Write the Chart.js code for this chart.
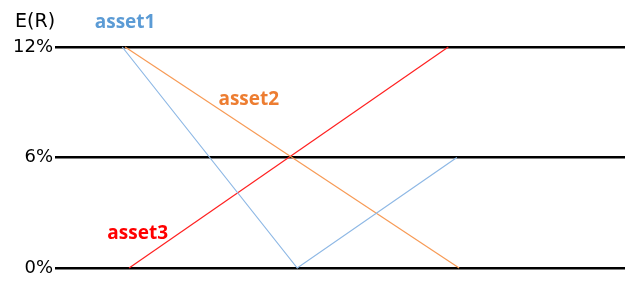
<!DOCTYPE html>
<html>
<head>
<meta charset="utf-8">
<script src="https://cdn.jsdelivr.net/npm/chart.js@4"></script>
<style>
  html, body { margin: 0; padding: 0; background: #fff; }
  #wrap { width: 625px; height: 288px; }
</style>
</head>
<body>
<div id="wrap"><canvas id="c" width="625" height="288"></canvas></div>
<script>
// Данные: положение по горизонтали (условные единицы) и E(R) в %
const yTicks = [0, 6, 12];
const asset1X = [1.18, 4.25, 7.05];
const asset1Y = [12, 0, 6];
const asset2X = [1.23, 7.09];
const asset2Y = [12, 0];
const asset3X = [1.3, 6.9];
const asset3Y = [0, 12];

// Подписи серий (точка привязки в единицах данных)
const seriesLabels = [
    { text: 'asset1', x: 1.23, y: 13.35, color: '#5B9BD5' },
    { text: 'asset2', x: 3.4, y: 9.15, color: '#ED7D31' },
    { text: 'asset3', x: 1.45, y: 1.85, color: '#FF0000' }
];
const axisTitle = { text: 'E(R)', x: -0.35, y: 13.35 };

function toPoints(xs, ys) {
    return xs.map((x, i) => ({ x: x, y: ys[i] }));
}

// Рисуем подписи поверх графика
const labelPlugin = {
    id: 'labels',
    afterDraw(chart) {
        const ctx = chart.ctx;
        const xs = chart.scales.x, ys = chart.scales.y;
        ctx.save();
        ctx.textAlign = 'center';
        ctx.textBaseline = 'middle';
        ctx.font = 'bold 19px "Open Sans"';
        seriesLabels.forEach(l => {
            ctx.fillStyle = l.color;
            ctx.fillText(l.text, xs.getPixelForValue(l.x), ys.getPixelForValue(l.y));
        });
        ctx.font = '19px "DejaVu Sans"';
        ctx.fillStyle = '#000';
        ctx.fillText(axisTitle.text, xs.getPixelForValue(axisTitle.x), ys.getPixelForValue(axisTitle.y));
        ctx.restore();
    }
};

const line = (data, color) => ({
    data: data,
    borderColor: color,
    borderWidth: 1.2,
    pointRadius: 0,
    showLine: true,
    fill: false,
    tension: 0
});

new Chart(document.getElementById('c'), {
    type: 'scatter',
    data: {
        datasets: [
            line(toPoints(asset1X, asset1Y), '#8EB8E5'),
            line(toPoints(asset2X, asset2Y), '#F79A55'),
            line(toPoints(asset3X, asset3Y), '#FF2020')
        ]
    },
    options: {
        responsive: false,
        animation: false,
        clip: false,
        layout: { padding: { top: 47, bottom: 20, left: 0, right: 0 } },
        plugins: { legend: { display: false }, tooltip: { enabled: false } },
        scales: {
            x: { type: 'linear', display: false, min: 0, max: 10 },
            y: {
                type: 'linear',
                min: 0,
                max: 12,
                afterFit(scale) { scale.width = 55; },
                afterBuildTicks(scale) { scale.ticks = yTicks.map(v => ({ value: v })); },
                ticks: {
                    padding: 2,
                    color: '#000',
                    font: { family: 'DejaVu Sans', size: 18 },
                    callback: v => v + '%'
                },
                grid: { color: '#000', lineWidth: 2.5, drawTicks: false },
                border: { display: false }
            }
        }
    },
    plugins: [labelPlugin]
});
</script>
</body>
</html>
